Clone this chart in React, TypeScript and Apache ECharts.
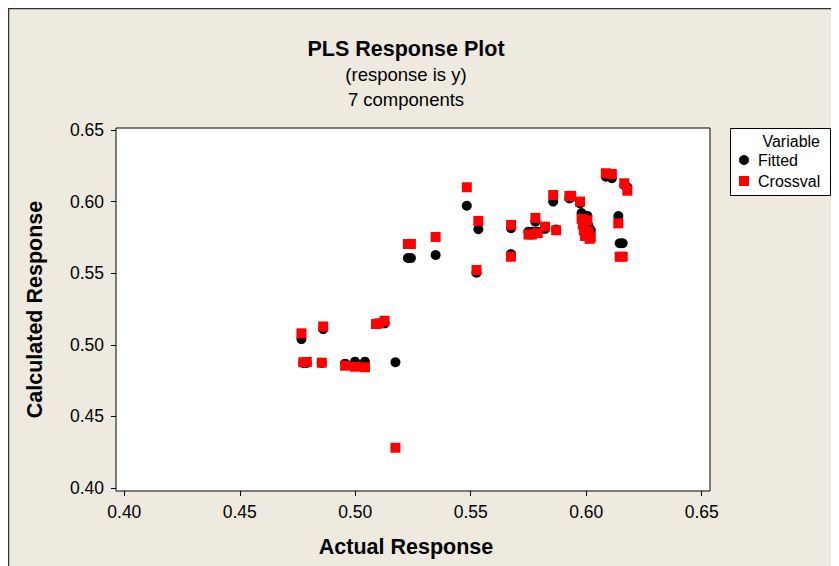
import React, { useEffect, useRef } from "react";
import * as echarts from "echarts";

// Observations: actual response, fitted (PLS), cross-validated
const actual = [
  0.4767, 0.4775, 0.479, 0.4855, 0.4861, 0.4956, 0.4999, 0.5042, 0.509, 0.5105,
  0.5127, 0.5174, 0.5228, 0.5241, 0.5348, 0.5483, 0.5533, 0.5525, 0.5675, 0.5674,
  0.575, 0.5765, 0.578, 0.579, 0.5822, 0.587, 0.5857, 0.5927, 0.5935, 0.5973,
  0.598, 0.5985, 0.599, 0.5995, 0.6005, 0.601, 0.6015, 0.602, 0.6085, 0.6111,
  0.6165, 0.6178, 0.6139, 0.6145, 0.6158,
];
const fitted = [
  0.504, 0.4873, 0.4873, 0.4873, 0.511, 0.4868, 0.4882, 0.4882, 0.5145, 0.5148,
  0.515, 0.4878, 0.5606, 0.5606, 0.5627, 0.5971, 0.5807, 0.5503, 0.5814, 0.5634,
  0.579, 0.579, 0.586, 0.579, 0.581, 0.5805, 0.6, 0.6023, 0.603, 0.5988,
  0.592, 0.588, 0.585, 0.58, 0.59, 0.583, 0.578, 0.58, 0.6174, 0.6163,
  0.6116, 0.61, 0.5899, 0.5709, 0.5709,
];
const crossval = [
  0.508, 0.4878, 0.488, 0.4875, 0.5128, 0.4854, 0.4847, 0.4843, 0.5145, 0.515,
  0.5168, 0.4281, 0.5704, 0.5704, 0.5753, 0.61, 0.5865, 0.5522, 0.5837, 0.5615,
  0.577, 0.577, 0.5886, 0.578, 0.5825, 0.58, 0.6046, 0.6039, 0.604, 0.6,
  0.588, 0.584, 0.58, 0.576, 0.587, 0.579, 0.574, 0.575, 0.6198, 0.6193,
  0.6128, 0.6076, 0.5848, 0.5615, 0.5615,
];
const tickValues = [0.4, 0.45, 0.5, 0.55, 0.6, 0.65];
const seriesNames = ["Fitted", "Crossval"];

const FONT = "'Liberation Sans', Arial, Helvetica, sans-serif";

export default function App() {
  const ref = useRef<HTMLDivElement>(null);
  useEffect(() => {
    if (!ref.current) return;
    const chart = echarts.init(ref.current, undefined, { renderer: "svg" });
    const fittedData = actual.map((x, i) => [x, fitted[i]]);
    const cvData = actual.map((x, i) => [x, crossval[i]]);
    chart.setOption({
      animation: false,
      backgroundColor: "#EEEAE0",
      title: [
        {
          text: "PLS Response Plot",
          left: 393,
          top: 25,
          textAlign: "center",
          textStyle: { fontFamily: FONT, fontSize: 21.5, fontWeight: "bold", color: "#000" },
        },
        {
          text: "(response is y)",
          left: 393,
          top: 52,
          textAlign: "center",
          textStyle: { fontFamily: FONT, fontSize: 18.5, fontWeight: "normal", color: "#000" },
        },
        {
          text: "7 components",
          left: 393,
          top: 77,
          textAlign: "center",
          textStyle: { fontFamily: FONT, fontSize: 18.5, fontWeight: "normal", color: "#000" },
        },
      ],
      grid: {
        left: 108,
        top: 120,
        width: 594,
        height: 363,
        show: true,
        backgroundColor: "#fff",
        borderColor: "#000",
        borderWidth: 1,
      },
      xAxis: {
        type: "value",
        min: 0.3964,
        max: 0.6536,
        name: "Actual Response",
        nameLocation: "middle",
        nameGap: 45,
        nameTextStyle: {
          fontFamily: FONT,
          fontSize: 21.5,
          fontWeight: "bold",
          color: "#000",
          padding: [0, 14, 0, 0],
        },
        axisLine: { show: false },
        splitLine: { show: false },
        axisTick: { show: true, length: 5, customValues: tickValues, lineStyle: { color: "#000" } },
        axisLabel: {
          customValues: tickValues,
          margin: 12,
          fontFamily: FONT,
          fontSize: 17.5,
          color: "#000",
          formatter: (v: number) => v.toFixed(2),
        },
      },
      yAxis: {
        type: "value",
        min: 0.3979,
        max: 0.6514,
        name: "Calculated Response",
        nameLocation: "middle",
        nameGap: 70,
        nameRotate: 90,
        nameTextStyle: { fontFamily: FONT, fontSize: 21.5, fontWeight: "bold", color: "#000" },
        axisLine: { show: false },
        splitLine: { show: false },
        axisTick: { show: true, length: 5, customValues: tickValues, lineStyle: { color: "#000" } },
        axisLabel: {
          customValues: tickValues,
          margin: 12,
          fontFamily: FONT,
          fontSize: 17.5,
          color: "#000",
          formatter: (v: number) => v.toFixed(2),
        },
      },
      legend: {
        orient: "vertical",
        left: 726,
        top: 139,
        itemWidth: 10,
        itemHeight: 10,
        itemGap: 5,
        data: [
          { name: seriesNames[0], icon: "circle" },
          { name: seriesNames[1], icon: "rect" },
        ],
        textStyle: { fontFamily: FONT, fontSize: 16, color: "#000", padding: [0, 0, 0, 4] },
      },
      graphic: [
        {
          type: "rect",
          z: -1,
          shape: { x: 0.5, y: 0.5, width: 840, height: 570 },
          style: { fill: "none", stroke: "#333", lineWidth: 1.5 },
        },
        {
          type: "rect",
          z: 0,
          shape: { x: 722.5, y: 120.5, width: 100, height: 67 },
          style: { fill: "#fff", stroke: "#000", lineWidth: 1 },
        },
        {
          type: "text",
          z: 1,
          x: 812,
          y: 133,
          style: {
            text: "Variable",
            fontFamily: FONT,
            fontSize: 16,
            fill: "#000",
            align: "right",
            verticalAlign: "middle",
          },
        },
      ],
      series: [
        {
          name: seriesNames[0],
          type: "scatter",
          symbol: "circle",
          symbolSize: 10,
          itemStyle: { color: "#000", opacity: 1 },
          data: fittedData,
        },
        {
          name: seriesNames[1],
          type: "scatter",
          symbol: "rect",
          symbolSize: 10,
          itemStyle: { color: "#FF0000", opacity: 1 },
          data: cvData,
        },
      ],
    });
    return () => chart.dispose();
  }, []);
  return <div ref={ref} style={{ width: 831, height: 558 }} />;
}
